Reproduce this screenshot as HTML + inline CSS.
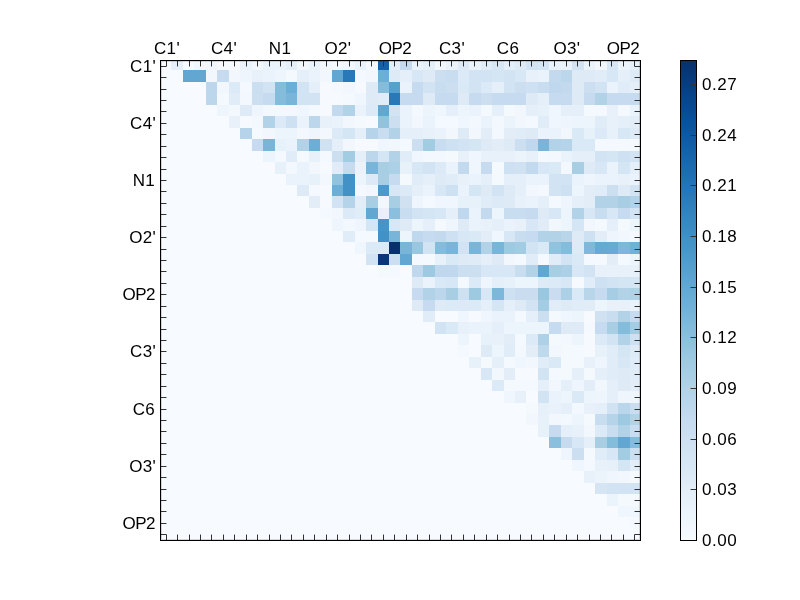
<!DOCTYPE html>
<html><head><meta charset="utf-8"><title>heatmap</title>
<style>
html,body{margin:0;padding:0;background:#fff;}
body{width:800px;height:600px;position:relative;overflow:hidden;font-family:"Liberation Sans",sans-serif;font-size:17px;color:#000;}
#ax{position:absolute;left:160px;top:60px;width:481px;height:481px;overflow:hidden;}
#ax svg{position:absolute;left:0;top:0;}
.xl{position:absolute;width:80px;text-align:center;top:39px;height:20px;line-height:20px;letter-spacing:0.3px;}
.yl{position:absolute;left:55.5px;width:100px;text-align:right;height:20px;line-height:20px;letter-spacing:0.3px;}
.cl{position:absolute;left:702px;height:20px;line-height:20px;letter-spacing:0.5px;}
.xl,.yl,.cl{will-change:transform;}
#cb{position:absolute;left:680px;top:60px;width:17px;height:481px;}
</style></head><body>
<div id="ax">
<svg width="481" height="482" viewBox="0 0 481 482" style="top:-1px" shape-rendering="crispEdges">
<rect x="0" y="0" width="481" height="482" fill="#f7fbff"/>
<rect x="11" y="0" width="12" height="11" fill="#e4eff9"/>
<rect x="34" y="0" width="12" height="11" fill="#f1f7fd"/>
<rect x="46" y="0" width="11" height="11" fill="#f1f7fd"/>
<rect x="80" y="0" width="12" height="11" fill="#eaf3fb"/>
<rect x="92" y="0" width="11" height="11" fill="#f1f7fd"/>
<rect x="103" y="0" width="12" height="11" fill="#eaf3fb"/>
<rect x="115" y="0" width="11" height="11" fill="#eaf3fb"/>
<rect x="126" y="0" width="11" height="11" fill="#e4eff9"/>
<rect x="137" y="0" width="12" height="11" fill="#f1f7fd"/>
<rect x="149" y="0" width="11" height="11" fill="#eaf3fb"/>
<rect x="160" y="0" width="12" height="11" fill="#f1f7fd"/>
<rect x="172" y="0" width="11" height="11" fill="#f3f9fe"/>
<rect x="183" y="0" width="12" height="11" fill="#f1f7fd"/>
<rect x="195" y="0" width="11" height="11" fill="#eaf3fb"/>
<rect x="206" y="0" width="12" height="11" fill="#f3f9fe"/>
<rect x="218" y="0" width="11" height="11" fill="#1461a8"/>
<rect x="229" y="0" width="11" height="11" fill="#e4eff9"/>
<rect x="240" y="0" width="12" height="11" fill="#c6dbef"/>
<rect x="252" y="0" width="11" height="11" fill="#eaf3fb"/>
<rect x="263" y="0" width="12" height="11" fill="#e4eff9"/>
<rect x="275" y="0" width="11" height="11" fill="#f1f7fd"/>
<rect x="286" y="0" width="12" height="11" fill="#eaf3fb"/>
<rect x="298" y="0" width="11" height="11" fill="#deebf7"/>
<rect x="309" y="0" width="12" height="11" fill="#eaf3fb"/>
<rect x="321" y="0" width="11" height="11" fill="#e0edf8"/>
<rect x="332" y="0" width="12" height="11" fill="#d8e7f5"/>
<rect x="344" y="0" width="11" height="11" fill="#e4eff9"/>
<rect x="355" y="0" width="11" height="11" fill="#deebf7"/>
<rect x="366" y="0" width="12" height="11" fill="#d2e3f3"/>
<rect x="378" y="0" width="11" height="11" fill="#d4e5f4"/>
<rect x="389" y="0" width="12" height="11" fill="#eaf3fb"/>
<rect x="401" y="0" width="11" height="11" fill="#eaf3fb"/>
<rect x="412" y="0" width="12" height="11" fill="#d2e3f3"/>
<rect x="424" y="0" width="11" height="11" fill="#eaf3fb"/>
<rect x="435" y="0" width="12" height="11" fill="#f1f7fd"/>
<rect x="447" y="0" width="11" height="11" fill="#d8e7f5"/>
<rect x="458" y="0" width="12" height="11" fill="#edf5fc"/>
<rect x="470" y="0" width="11" height="11" fill="#e4eff9"/>
<rect x="23" y="11" width="11" height="12" fill="#61a7d2"/>
<rect x="34" y="11" width="12" height="12" fill="#61a7d2"/>
<rect x="46" y="11" width="11" height="12" fill="#f1f7fd"/>
<rect x="57" y="11" width="12" height="12" fill="#c6dbef"/>
<rect x="69" y="11" width="11" height="12" fill="#f1f7fd"/>
<rect x="80" y="11" width="12" height="12" fill="#eef5fc"/>
<rect x="92" y="11" width="11" height="12" fill="#e8f1fa"/>
<rect x="103" y="11" width="12" height="12" fill="#eaf3fb"/>
<rect x="115" y="11" width="11" height="12" fill="#eef5fc"/>
<rect x="126" y="11" width="11" height="12" fill="#f4f9fe"/>
<rect x="137" y="11" width="12" height="12" fill="#e4eff9"/>
<rect x="149" y="11" width="11" height="12" fill="#eaf3fb"/>
<rect x="160" y="11" width="12" height="12" fill="#f1f7fd"/>
<rect x="172" y="11" width="11" height="12" fill="#61a7d2"/>
<rect x="183" y="11" width="12" height="12" fill="#2979b9"/>
<rect x="195" y="11" width="11" height="12" fill="#f3f9fe"/>
<rect x="206" y="11" width="12" height="12" fill="#f1f7fd"/>
<rect x="218" y="11" width="11" height="12" fill="#6baed6"/>
<rect x="229" y="11" width="11" height="12" fill="#deebf7"/>
<rect x="240" y="11" width="12" height="12" fill="#e4eff9"/>
<rect x="252" y="11" width="11" height="12" fill="#d8e7f5"/>
<rect x="263" y="11" width="12" height="12" fill="#deebf7"/>
<rect x="275" y="11" width="11" height="12" fill="#ccdff1"/>
<rect x="286" y="11" width="12" height="12" fill="#c8ddf0"/>
<rect x="298" y="11" width="11" height="12" fill="#dce9f6"/>
<rect x="309" y="11" width="12" height="12" fill="#d2e3f3"/>
<rect x="321" y="11" width="11" height="12" fill="#d2e3f3"/>
<rect x="332" y="11" width="12" height="12" fill="#d4e5f4"/>
<rect x="344" y="11" width="11" height="12" fill="#d2e3f3"/>
<rect x="355" y="11" width="11" height="12" fill="#d8e7f5"/>
<rect x="366" y="11" width="12" height="12" fill="#e8f1fa"/>
<rect x="378" y="11" width="11" height="12" fill="#eaf3fb"/>
<rect x="389" y="11" width="12" height="12" fill="#c2d9ee"/>
<rect x="401" y="11" width="11" height="12" fill="#bcd7ec"/>
<rect x="412" y="11" width="12" height="12" fill="#deebf7"/>
<rect x="424" y="11" width="11" height="12" fill="#deebf7"/>
<rect x="435" y="11" width="12" height="12" fill="#e0edf8"/>
<rect x="447" y="11" width="11" height="12" fill="#d8e7f5"/>
<rect x="458" y="11" width="12" height="12" fill="#e4eff9"/>
<rect x="470" y="11" width="11" height="12" fill="#deebf7"/>
<rect x="46" y="23" width="11" height="11" fill="#bcd7ec"/>
<rect x="57" y="23" width="12" height="11" fill="#f1f7fd"/>
<rect x="69" y="23" width="11" height="11" fill="#dce9f6"/>
<rect x="80" y="23" width="12" height="11" fill="#f3f9fe"/>
<rect x="92" y="23" width="11" height="11" fill="#ccdff1"/>
<rect x="103" y="23" width="12" height="11" fill="#d2e3f3"/>
<rect x="115" y="23" width="11" height="11" fill="#84bcdc"/>
<rect x="126" y="23" width="11" height="11" fill="#6baed6"/>
<rect x="137" y="23" width="12" height="11" fill="#d2e3f3"/>
<rect x="149" y="23" width="11" height="11" fill="#e4eff9"/>
<rect x="160" y="23" width="12" height="11" fill="#f6faff"/>
<rect x="172" y="23" width="11" height="11" fill="#f4f9fe"/>
<rect x="183" y="23" width="12" height="11" fill="#f1f7fd"/>
<rect x="195" y="23" width="11" height="11" fill="#f6faff"/>
<rect x="206" y="23" width="12" height="11" fill="#deebf7"/>
<rect x="218" y="23" width="11" height="11" fill="#84bcdc"/>
<rect x="229" y="23" width="11" height="11" fill="#56a0ce"/>
<rect x="240" y="23" width="12" height="11" fill="#eaf3fb"/>
<rect x="252" y="23" width="11" height="11" fill="#c6dbef"/>
<rect x="263" y="23" width="12" height="11" fill="#d2e3f3"/>
<rect x="275" y="23" width="11" height="11" fill="#c8ddf0"/>
<rect x="286" y="23" width="12" height="11" fill="#ccdff1"/>
<rect x="298" y="23" width="11" height="11" fill="#dae9f6"/>
<rect x="309" y="23" width="12" height="11" fill="#d2e3f3"/>
<rect x="321" y="23" width="11" height="11" fill="#dce9f6"/>
<rect x="332" y="23" width="12" height="11" fill="#e4eff9"/>
<rect x="344" y="23" width="11" height="11" fill="#d2e3f3"/>
<rect x="355" y="23" width="11" height="11" fill="#ccdff1"/>
<rect x="366" y="23" width="12" height="11" fill="#cee1f2"/>
<rect x="378" y="23" width="11" height="11" fill="#c8ddf0"/>
<rect x="389" y="23" width="12" height="11" fill="#c0d8ed"/>
<rect x="401" y="23" width="11" height="11" fill="#c2d9ee"/>
<rect x="412" y="23" width="12" height="11" fill="#deebf7"/>
<rect x="424" y="23" width="11" height="11" fill="#ccdff1"/>
<rect x="435" y="23" width="12" height="11" fill="#d2e3f3"/>
<rect x="447" y="23" width="11" height="11" fill="#eaf3fb"/>
<rect x="458" y="23" width="12" height="11" fill="#e0edf8"/>
<rect x="470" y="23" width="11" height="11" fill="#e4eff9"/>
<rect x="46" y="34" width="11" height="12" fill="#bcd7ec"/>
<rect x="57" y="34" width="12" height="12" fill="#f4f9fe"/>
<rect x="69" y="34" width="11" height="12" fill="#e0edf8"/>
<rect x="80" y="34" width="12" height="12" fill="#f2f8fd"/>
<rect x="92" y="34" width="11" height="12" fill="#ccdff1"/>
<rect x="103" y="34" width="12" height="12" fill="#c6dbef"/>
<rect x="115" y="34" width="11" height="12" fill="#84bcdc"/>
<rect x="126" y="34" width="11" height="12" fill="#78b5d9"/>
<rect x="137" y="34" width="12" height="12" fill="#d2e3f3"/>
<rect x="149" y="34" width="11" height="12" fill="#d2e3f3"/>
<rect x="160" y="34" width="12" height="12" fill="#f6faff"/>
<rect x="172" y="34" width="11" height="12" fill="#f6faff"/>
<rect x="183" y="34" width="12" height="12" fill="#f4f9fe"/>
<rect x="195" y="34" width="11" height="12" fill="#f0f6fd"/>
<rect x="206" y="34" width="12" height="12" fill="#deebf7"/>
<rect x="218" y="34" width="11" height="12" fill="#e0edf8"/>
<rect x="229" y="34" width="11" height="12" fill="#2979b9"/>
<rect x="240" y="34" width="12" height="12" fill="#c6dbef"/>
<rect x="252" y="34" width="11" height="12" fill="#c6dbef"/>
<rect x="263" y="34" width="12" height="12" fill="#deebf7"/>
<rect x="275" y="34" width="11" height="12" fill="#c6dbef"/>
<rect x="286" y="34" width="12" height="12" fill="#c6dbef"/>
<rect x="298" y="34" width="11" height="12" fill="#deebf7"/>
<rect x="309" y="34" width="12" height="12" fill="#c6dbef"/>
<rect x="321" y="34" width="11" height="12" fill="#ccdff1"/>
<rect x="332" y="34" width="12" height="12" fill="#c6dbef"/>
<rect x="344" y="34" width="11" height="12" fill="#c6dbef"/>
<rect x="355" y="34" width="11" height="12" fill="#c6dbef"/>
<rect x="366" y="34" width="12" height="12" fill="#deebf7"/>
<rect x="378" y="34" width="11" height="12" fill="#e4eff9"/>
<rect x="389" y="34" width="12" height="12" fill="#c6dbef"/>
<rect x="401" y="34" width="11" height="12" fill="#c6dbef"/>
<rect x="412" y="34" width="12" height="12" fill="#deebf7"/>
<rect x="424" y="34" width="11" height="12" fill="#c6dbef"/>
<rect x="435" y="34" width="12" height="12" fill="#b2d2e8"/>
<rect x="447" y="34" width="11" height="12" fill="#c6dbef"/>
<rect x="458" y="34" width="12" height="12" fill="#c6dbef"/>
<rect x="470" y="34" width="11" height="12" fill="#c6dbef"/>
<rect x="57" y="46" width="12" height="11" fill="#eef5fc"/>
<rect x="69" y="46" width="11" height="11" fill="#f2f8fd"/>
<rect x="80" y="46" width="12" height="11" fill="#deebf7"/>
<rect x="92" y="46" width="11" height="11" fill="#eef5fc"/>
<rect x="103" y="46" width="12" height="11" fill="#f2f8fd"/>
<rect x="115" y="46" width="11" height="11" fill="#f2f8fd"/>
<rect x="126" y="46" width="11" height="11" fill="#f2f8fd"/>
<rect x="137" y="46" width="12" height="11" fill="#f0f6fd"/>
<rect x="149" y="46" width="11" height="11" fill="#f3f9fe"/>
<rect x="160" y="46" width="12" height="11" fill="#f6faff"/>
<rect x="172" y="46" width="11" height="11" fill="#c2d9ee"/>
<rect x="183" y="46" width="12" height="11" fill="#b2d2e8"/>
<rect x="195" y="46" width="11" height="11" fill="#eaf3fb"/>
<rect x="206" y="46" width="12" height="11" fill="#dce9f6"/>
<rect x="218" y="46" width="11" height="11" fill="#61a7d2"/>
<rect x="229" y="46" width="11" height="11" fill="#d2e3f3"/>
<rect x="240" y="46" width="12" height="11" fill="#eaf3fb"/>
<rect x="252" y="46" width="11" height="11" fill="#f3f9fe"/>
<rect x="263" y="46" width="12" height="11" fill="#edf5fc"/>
<rect x="275" y="46" width="11" height="11" fill="#f0f6fd"/>
<rect x="286" y="46" width="12" height="11" fill="#e4eff9"/>
<rect x="298" y="46" width="11" height="11" fill="#edf5fc"/>
<rect x="309" y="46" width="12" height="11" fill="#eaf3fb"/>
<rect x="321" y="46" width="11" height="11" fill="#f3f9fe"/>
<rect x="332" y="46" width="12" height="11" fill="#e4eff9"/>
<rect x="344" y="46" width="11" height="11" fill="#f4f9fe"/>
<rect x="355" y="46" width="11" height="11" fill="#f1f7fd"/>
<rect x="366" y="46" width="12" height="11" fill="#e4eff9"/>
<rect x="378" y="46" width="11" height="11" fill="#e7f1fa"/>
<rect x="389" y="46" width="12" height="11" fill="#f0f6fd"/>
<rect x="401" y="46" width="11" height="11" fill="#e4eff9"/>
<rect x="412" y="46" width="12" height="11" fill="#e4eff9"/>
<rect x="424" y="46" width="11" height="11" fill="#f4f9fe"/>
<rect x="435" y="46" width="12" height="11" fill="#f3f9fe"/>
<rect x="447" y="46" width="11" height="11" fill="#e8f1fa"/>
<rect x="458" y="46" width="12" height="11" fill="#f3f9fe"/>
<rect x="470" y="46" width="11" height="11" fill="#eaf3fb"/>
<rect x="69" y="57" width="11" height="12" fill="#e8f1fa"/>
<rect x="80" y="57" width="12" height="12" fill="#f6faff"/>
<rect x="92" y="57" width="11" height="12" fill="#f2f8fd"/>
<rect x="103" y="57" width="12" height="12" fill="#b2d2e8"/>
<rect x="115" y="57" width="11" height="12" fill="#dce9f6"/>
<rect x="126" y="57" width="11" height="12" fill="#cee1f2"/>
<rect x="137" y="57" width="12" height="12" fill="#eaf3fb"/>
<rect x="149" y="57" width="11" height="12" fill="#bcd7ec"/>
<rect x="160" y="57" width="12" height="12" fill="#e8f1fa"/>
<rect x="172" y="57" width="11" height="12" fill="#eaf3fb"/>
<rect x="183" y="57" width="12" height="12" fill="#f1f7fd"/>
<rect x="195" y="57" width="11" height="12" fill="#f4f9fe"/>
<rect x="206" y="57" width="12" height="12" fill="#f6faff"/>
<rect x="218" y="57" width="11" height="12" fill="#91c3de"/>
<rect x="229" y="57" width="11" height="12" fill="#ccdff1"/>
<rect x="240" y="57" width="12" height="12" fill="#eaf3fb"/>
<rect x="252" y="57" width="11" height="12" fill="#f1f7fd"/>
<rect x="263" y="57" width="12" height="12" fill="#eaf3fb"/>
<rect x="275" y="57" width="11" height="12" fill="#f3f9fe"/>
<rect x="286" y="57" width="12" height="12" fill="#f3f9fe"/>
<rect x="298" y="57" width="11" height="12" fill="#f0f6fd"/>
<rect x="309" y="57" width="12" height="12" fill="#f2f8fd"/>
<rect x="321" y="57" width="11" height="12" fill="#eaf3fb"/>
<rect x="332" y="57" width="12" height="12" fill="#f2f8fd"/>
<rect x="344" y="57" width="11" height="12" fill="#ecf4fb"/>
<rect x="355" y="57" width="11" height="12" fill="#f1f7fd"/>
<rect x="366" y="57" width="12" height="12" fill="#f3f9fe"/>
<rect x="378" y="57" width="11" height="12" fill="#e0edf8"/>
<rect x="389" y="57" width="12" height="12" fill="#f0f6fd"/>
<rect x="401" y="57" width="11" height="12" fill="#eef5fc"/>
<rect x="412" y="57" width="12" height="12" fill="#edf5fc"/>
<rect x="424" y="57" width="11" height="12" fill="#edf5fc"/>
<rect x="435" y="57" width="12" height="12" fill="#e0edf8"/>
<rect x="447" y="57" width="11" height="12" fill="#e8f1fa"/>
<rect x="458" y="57" width="12" height="12" fill="#e4eff9"/>
<rect x="470" y="57" width="11" height="12" fill="#e2edf8"/>
<rect x="80" y="69" width="12" height="11" fill="#b6d4e9"/>
<rect x="92" y="69" width="11" height="11" fill="#f3f9fe"/>
<rect x="103" y="69" width="12" height="11" fill="#f1f7fd"/>
<rect x="115" y="69" width="11" height="11" fill="#edf5fc"/>
<rect x="126" y="69" width="11" height="11" fill="#edf5fc"/>
<rect x="137" y="69" width="12" height="11" fill="#f2f8fd"/>
<rect x="149" y="69" width="11" height="11" fill="#eef5fc"/>
<rect x="160" y="69" width="12" height="11" fill="#f2f8fd"/>
<rect x="172" y="69" width="11" height="11" fill="#dce9f6"/>
<rect x="183" y="69" width="12" height="11" fill="#d4e5f4"/>
<rect x="195" y="69" width="11" height="11" fill="#e4eff9"/>
<rect x="206" y="69" width="12" height="11" fill="#b6d4e9"/>
<rect x="218" y="69" width="11" height="11" fill="#c8ddf0"/>
<rect x="229" y="69" width="11" height="11" fill="#b2d2e8"/>
<rect x="240" y="69" width="12" height="11" fill="#e4eff9"/>
<rect x="252" y="69" width="11" height="11" fill="#e4eff9"/>
<rect x="263" y="69" width="12" height="11" fill="#e8f1fa"/>
<rect x="275" y="69" width="11" height="11" fill="#eaf3fb"/>
<rect x="286" y="69" width="12" height="11" fill="#f1f7fd"/>
<rect x="298" y="69" width="11" height="11" fill="#deebf7"/>
<rect x="309" y="69" width="12" height="11" fill="#f1f7fd"/>
<rect x="321" y="69" width="11" height="11" fill="#e2edf8"/>
<rect x="332" y="69" width="12" height="11" fill="#f2f8fd"/>
<rect x="344" y="69" width="11" height="11" fill="#e2edf8"/>
<rect x="355" y="69" width="11" height="11" fill="#e0edf8"/>
<rect x="366" y="69" width="12" height="11" fill="#deebf7"/>
<rect x="378" y="69" width="11" height="11" fill="#eaf3fb"/>
<rect x="389" y="69" width="12" height="11" fill="#eaf3fb"/>
<rect x="401" y="69" width="11" height="11" fill="#f1f7fd"/>
<rect x="412" y="69" width="12" height="11" fill="#dae9f6"/>
<rect x="424" y="69" width="11" height="11" fill="#e7f1fa"/>
<rect x="435" y="69" width="12" height="11" fill="#dce9f6"/>
<rect x="447" y="69" width="11" height="11" fill="#e7f1fa"/>
<rect x="458" y="69" width="12" height="11" fill="#d8e7f5"/>
<rect x="470" y="69" width="11" height="11" fill="#deebf7"/>
<rect x="92" y="80" width="11" height="12" fill="#c6dbef"/>
<rect x="103" y="80" width="12" height="12" fill="#78b5d9"/>
<rect x="115" y="80" width="11" height="12" fill="#e7f1fa"/>
<rect x="126" y="80" width="11" height="12" fill="#eaf3fb"/>
<rect x="137" y="80" width="12" height="12" fill="#b2d2e8"/>
<rect x="149" y="80" width="11" height="12" fill="#6baed6"/>
<rect x="160" y="80" width="12" height="12" fill="#d0e1f2"/>
<rect x="172" y="80" width="11" height="12" fill="#e4eff9"/>
<rect x="183" y="80" width="12" height="12" fill="#f1f7fd"/>
<rect x="195" y="80" width="11" height="12" fill="#f6faff"/>
<rect x="206" y="80" width="12" height="12" fill="#f6faff"/>
<rect x="218" y="80" width="11" height="12" fill="#f0f6fd"/>
<rect x="229" y="80" width="11" height="12" fill="#f1f7fd"/>
<rect x="240" y="80" width="12" height="12" fill="#f3f9fe"/>
<rect x="252" y="80" width="11" height="12" fill="#ccdff1"/>
<rect x="263" y="80" width="12" height="12" fill="#a2cce2"/>
<rect x="275" y="80" width="11" height="12" fill="#c8ddf0"/>
<rect x="286" y="80" width="12" height="12" fill="#cee1f2"/>
<rect x="298" y="80" width="11" height="12" fill="#d2e3f3"/>
<rect x="309" y="80" width="12" height="12" fill="#d4e5f4"/>
<rect x="321" y="80" width="11" height="12" fill="#deebf7"/>
<rect x="332" y="80" width="12" height="12" fill="#e2edf8"/>
<rect x="344" y="80" width="11" height="12" fill="#deebf7"/>
<rect x="355" y="80" width="11" height="12" fill="#ccdff1"/>
<rect x="366" y="80" width="12" height="12" fill="#c0d8ed"/>
<rect x="378" y="80" width="11" height="12" fill="#78b5d9"/>
<rect x="389" y="80" width="12" height="12" fill="#b2d2e8"/>
<rect x="401" y="80" width="11" height="12" fill="#b6d4e9"/>
<rect x="412" y="80" width="12" height="12" fill="#dae9f6"/>
<rect x="424" y="80" width="11" height="12" fill="#dae9f6"/>
<rect x="435" y="80" width="12" height="12" fill="#f3f9fe"/>
<rect x="447" y="80" width="11" height="12" fill="#f3f9fe"/>
<rect x="458" y="80" width="12" height="12" fill="#f4f9fe"/>
<rect x="470" y="80" width="11" height="12" fill="#f4f9fe"/>
<rect x="103" y="92" width="12" height="11" fill="#edf5fc"/>
<rect x="115" y="92" width="11" height="11" fill="#f3f9fe"/>
<rect x="126" y="92" width="11" height="11" fill="#e0edf8"/>
<rect x="137" y="92" width="12" height="11" fill="#f4f9fe"/>
<rect x="149" y="92" width="11" height="11" fill="#e8f1fa"/>
<rect x="160" y="92" width="12" height="11" fill="#f3f9fe"/>
<rect x="172" y="92" width="11" height="11" fill="#ccdff1"/>
<rect x="183" y="92" width="12" height="11" fill="#a2cce2"/>
<rect x="195" y="92" width="11" height="11" fill="#e4eff9"/>
<rect x="206" y="92" width="12" height="11" fill="#bcd7ec"/>
<rect x="218" y="92" width="11" height="11" fill="#d4e5f4"/>
<rect x="229" y="92" width="11" height="11" fill="#b2d2e8"/>
<rect x="240" y="92" width="12" height="11" fill="#e0edf8"/>
<rect x="252" y="92" width="11" height="11" fill="#f0f6fd"/>
<rect x="263" y="92" width="12" height="11" fill="#f2f8fd"/>
<rect x="275" y="92" width="11" height="11" fill="#f2f8fd"/>
<rect x="286" y="92" width="12" height="11" fill="#f4f9fe"/>
<rect x="298" y="92" width="11" height="11" fill="#e8f1fa"/>
<rect x="309" y="92" width="12" height="11" fill="#f0f6fd"/>
<rect x="321" y="92" width="11" height="11" fill="#e8f1fa"/>
<rect x="332" y="92" width="12" height="11" fill="#e8f1fa"/>
<rect x="344" y="92" width="11" height="11" fill="#e8f1fa"/>
<rect x="355" y="92" width="11" height="11" fill="#ecf4fb"/>
<rect x="366" y="92" width="12" height="11" fill="#e8f1fa"/>
<rect x="378" y="92" width="11" height="11" fill="#f3f9fe"/>
<rect x="389" y="92" width="12" height="11" fill="#f2f8fd"/>
<rect x="401" y="92" width="11" height="11" fill="#eaf3fb"/>
<rect x="412" y="92" width="12" height="11" fill="#e4eff9"/>
<rect x="424" y="92" width="11" height="11" fill="#e4eff9"/>
<rect x="435" y="92" width="12" height="11" fill="#d2e3f3"/>
<rect x="447" y="92" width="11" height="11" fill="#d4e5f4"/>
<rect x="458" y="92" width="12" height="11" fill="#cee1f2"/>
<rect x="470" y="92" width="11" height="11" fill="#d2e3f3"/>
<rect x="115" y="103" width="11" height="12" fill="#e7f1fa"/>
<rect x="126" y="103" width="11" height="12" fill="#f2f8fd"/>
<rect x="137" y="103" width="12" height="12" fill="#eaf3fb"/>
<rect x="149" y="103" width="11" height="12" fill="#f1f7fd"/>
<rect x="160" y="103" width="12" height="12" fill="#f6faff"/>
<rect x="172" y="103" width="11" height="12" fill="#e0edf8"/>
<rect x="183" y="103" width="12" height="12" fill="#c6dbef"/>
<rect x="195" y="103" width="11" height="12" fill="#eaf3fb"/>
<rect x="206" y="103" width="12" height="12" fill="#78b5d9"/>
<rect x="218" y="103" width="11" height="12" fill="#a8cee4"/>
<rect x="229" y="103" width="11" height="12" fill="#acd0e6"/>
<rect x="240" y="103" width="12" height="12" fill="#e7f1fa"/>
<rect x="252" y="103" width="11" height="12" fill="#d8e7f5"/>
<rect x="263" y="103" width="12" height="12" fill="#d2e3f3"/>
<rect x="275" y="103" width="11" height="12" fill="#dce9f6"/>
<rect x="286" y="103" width="12" height="12" fill="#eaf3fb"/>
<rect x="298" y="103" width="11" height="12" fill="#c2d9ee"/>
<rect x="309" y="103" width="12" height="12" fill="#f0f6fd"/>
<rect x="321" y="103" width="11" height="12" fill="#c6dbef"/>
<rect x="332" y="103" width="12" height="12" fill="#f4f9fe"/>
<rect x="344" y="103" width="11" height="12" fill="#cee1f2"/>
<rect x="355" y="103" width="11" height="12" fill="#d0e1f2"/>
<rect x="366" y="103" width="12" height="12" fill="#c2d9ee"/>
<rect x="378" y="103" width="11" height="12" fill="#d8e7f5"/>
<rect x="389" y="103" width="12" height="12" fill="#dae9f6"/>
<rect x="401" y="103" width="11" height="12" fill="#f2f8fd"/>
<rect x="412" y="103" width="12" height="12" fill="#a8cee4"/>
<rect x="424" y="103" width="11" height="12" fill="#deebf7"/>
<rect x="435" y="103" width="12" height="12" fill="#d8e7f5"/>
<rect x="447" y="103" width="11" height="12" fill="#eaf3fb"/>
<rect x="458" y="103" width="12" height="12" fill="#d4e5f4"/>
<rect x="470" y="103" width="11" height="12" fill="#e4eff9"/>
<rect x="126" y="115" width="11" height="11" fill="#eaf3fb"/>
<rect x="137" y="115" width="12" height="11" fill="#eaf3fb"/>
<rect x="149" y="115" width="11" height="11" fill="#e7f1fa"/>
<rect x="160" y="115" width="12" height="11" fill="#f2f8fd"/>
<rect x="172" y="115" width="11" height="11" fill="#91c3de"/>
<rect x="183" y="115" width="12" height="11" fill="#4292c6"/>
<rect x="195" y="115" width="11" height="11" fill="#edf5fc"/>
<rect x="206" y="115" width="12" height="11" fill="#dce9f6"/>
<rect x="218" y="115" width="11" height="11" fill="#a8cee4"/>
<rect x="229" y="115" width="11" height="11" fill="#c6dbef"/>
<rect x="240" y="115" width="12" height="11" fill="#f4f9fe"/>
<rect x="252" y="115" width="11" height="11" fill="#e0edf8"/>
<rect x="263" y="115" width="12" height="11" fill="#e4eff9"/>
<rect x="275" y="115" width="11" height="11" fill="#deebf7"/>
<rect x="286" y="115" width="12" height="11" fill="#e0edf8"/>
<rect x="298" y="115" width="11" height="11" fill="#e8f1fa"/>
<rect x="309" y="115" width="12" height="11" fill="#eaf3fb"/>
<rect x="321" y="115" width="11" height="11" fill="#e4eff9"/>
<rect x="332" y="115" width="12" height="11" fill="#f4f9fe"/>
<rect x="344" y="115" width="11" height="11" fill="#e4eff9"/>
<rect x="355" y="115" width="11" height="11" fill="#e4eff9"/>
<rect x="366" y="115" width="12" height="11" fill="#eaf3fb"/>
<rect x="378" y="115" width="11" height="11" fill="#eaf3fb"/>
<rect x="389" y="115" width="12" height="11" fill="#d2e3f3"/>
<rect x="401" y="115" width="11" height="11" fill="#d2e3f3"/>
<rect x="412" y="115" width="12" height="11" fill="#eaf3fb"/>
<rect x="424" y="115" width="11" height="11" fill="#eef5fc"/>
<rect x="435" y="115" width="12" height="11" fill="#eaf3fb"/>
<rect x="447" y="115" width="11" height="11" fill="#eaf3fb"/>
<rect x="458" y="115" width="12" height="11" fill="#e8f1fa"/>
<rect x="470" y="115" width="11" height="11" fill="#eaf3fb"/>
<rect x="137" y="126" width="12" height="11" fill="#deebf7"/>
<rect x="149" y="126" width="11" height="11" fill="#f3f9fe"/>
<rect x="160" y="126" width="12" height="11" fill="#f6faff"/>
<rect x="172" y="126" width="11" height="11" fill="#6baed6"/>
<rect x="183" y="126" width="12" height="11" fill="#4292c6"/>
<rect x="195" y="126" width="11" height="11" fill="#f3f9fe"/>
<rect x="206" y="126" width="12" height="11" fill="#f1f7fd"/>
<rect x="218" y="126" width="11" height="11" fill="#4c99ca"/>
<rect x="229" y="126" width="11" height="11" fill="#d8e7f5"/>
<rect x="240" y="126" width="12" height="11" fill="#dce9f6"/>
<rect x="252" y="126" width="11" height="11" fill="#e4eff9"/>
<rect x="263" y="126" width="12" height="11" fill="#eaf3fb"/>
<rect x="275" y="126" width="11" height="11" fill="#d8e7f5"/>
<rect x="286" y="126" width="12" height="11" fill="#cee1f2"/>
<rect x="298" y="126" width="11" height="11" fill="#eaf3fb"/>
<rect x="309" y="126" width="12" height="11" fill="#d4e5f4"/>
<rect x="321" y="126" width="11" height="11" fill="#deebf7"/>
<rect x="332" y="126" width="12" height="11" fill="#d2e3f3"/>
<rect x="344" y="126" width="11" height="11" fill="#deebf7"/>
<rect x="355" y="126" width="11" height="11" fill="#e4eff9"/>
<rect x="366" y="126" width="12" height="11" fill="#f1f7fd"/>
<rect x="378" y="126" width="11" height="11" fill="#f3f9fe"/>
<rect x="389" y="126" width="12" height="11" fill="#d2e3f3"/>
<rect x="401" y="126" width="11" height="11" fill="#cee1f2"/>
<rect x="412" y="126" width="12" height="11" fill="#edf5fc"/>
<rect x="424" y="126" width="11" height="11" fill="#e2edf8"/>
<rect x="435" y="126" width="12" height="11" fill="#e0edf8"/>
<rect x="447" y="126" width="11" height="11" fill="#ccdff1"/>
<rect x="458" y="126" width="12" height="11" fill="#deebf7"/>
<rect x="470" y="126" width="11" height="11" fill="#d2e3f3"/>
<rect x="149" y="137" width="11" height="12" fill="#e2edf8"/>
<rect x="160" y="137" width="12" height="12" fill="#f6faff"/>
<rect x="172" y="137" width="11" height="12" fill="#d2e3f3"/>
<rect x="183" y="137" width="12" height="12" fill="#b6d4e9"/>
<rect x="195" y="137" width="11" height="12" fill="#e2edf8"/>
<rect x="206" y="137" width="12" height="12" fill="#a8cee4"/>
<rect x="218" y="137" width="11" height="12" fill="#f1f7fd"/>
<rect x="229" y="137" width="11" height="12" fill="#a8cee4"/>
<rect x="240" y="137" width="12" height="12" fill="#d0e1f2"/>
<rect x="252" y="137" width="11" height="12" fill="#eef5fc"/>
<rect x="263" y="137" width="12" height="12" fill="#f3f9fe"/>
<rect x="275" y="137" width="11" height="12" fill="#f0f6fd"/>
<rect x="286" y="137" width="12" height="12" fill="#f0f6fd"/>
<rect x="298" y="137" width="11" height="12" fill="#e7f1fa"/>
<rect x="309" y="137" width="12" height="12" fill="#e7f1fa"/>
<rect x="321" y="137" width="11" height="12" fill="#e0edf8"/>
<rect x="332" y="137" width="12" height="12" fill="#dce9f6"/>
<rect x="344" y="137" width="11" height="12" fill="#deebf7"/>
<rect x="355" y="137" width="11" height="12" fill="#e8f1fa"/>
<rect x="366" y="137" width="12" height="12" fill="#eaf3fb"/>
<rect x="378" y="137" width="11" height="12" fill="#e4eff9"/>
<rect x="389" y="137" width="12" height="12" fill="#f3f9fe"/>
<rect x="401" y="137" width="11" height="12" fill="#eef5fc"/>
<rect x="412" y="137" width="12" height="12" fill="#e4eff9"/>
<rect x="424" y="137" width="11" height="12" fill="#e2edf8"/>
<rect x="435" y="137" width="12" height="12" fill="#b2d2e8"/>
<rect x="447" y="137" width="11" height="12" fill="#b2d2e8"/>
<rect x="458" y="137" width="12" height="12" fill="#a8cee4"/>
<rect x="470" y="137" width="11" height="12" fill="#b2d2e8"/>
<rect x="160" y="149" width="12" height="11" fill="#f3f9fe"/>
<rect x="172" y="149" width="11" height="11" fill="#f1f7fd"/>
<rect x="183" y="149" width="12" height="11" fill="#dce9f6"/>
<rect x="195" y="149" width="11" height="11" fill="#e0edf8"/>
<rect x="206" y="149" width="12" height="11" fill="#61a7d2"/>
<rect x="218" y="149" width="11" height="11" fill="#e8f1fa"/>
<rect x="229" y="149" width="11" height="11" fill="#8abfdd"/>
<rect x="240" y="149" width="12" height="11" fill="#c8ddf0"/>
<rect x="252" y="149" width="11" height="11" fill="#d2e3f3"/>
<rect x="263" y="149" width="12" height="11" fill="#d4e5f4"/>
<rect x="275" y="149" width="11" height="11" fill="#d8e7f5"/>
<rect x="286" y="149" width="12" height="11" fill="#e4eff9"/>
<rect x="298" y="149" width="11" height="11" fill="#c0d8ed"/>
<rect x="309" y="149" width="12" height="11" fill="#eaf3fb"/>
<rect x="321" y="149" width="11" height="11" fill="#c2d9ee"/>
<rect x="332" y="149" width="12" height="11" fill="#edf5fc"/>
<rect x="344" y="149" width="11" height="11" fill="#c8ddf0"/>
<rect x="355" y="149" width="11" height="11" fill="#c8ddf0"/>
<rect x="366" y="149" width="12" height="11" fill="#c6dbef"/>
<rect x="378" y="149" width="11" height="11" fill="#deebf7"/>
<rect x="389" y="149" width="12" height="11" fill="#d8e7f5"/>
<rect x="401" y="149" width="11" height="11" fill="#edf5fc"/>
<rect x="412" y="149" width="12" height="11" fill="#b2d2e8"/>
<rect x="424" y="149" width="11" height="11" fill="#d8e7f5"/>
<rect x="435" y="149" width="12" height="11" fill="#c8ddf0"/>
<rect x="447" y="149" width="11" height="11" fill="#d8e7f5"/>
<rect x="458" y="149" width="12" height="11" fill="#c6dbef"/>
<rect x="470" y="149" width="11" height="11" fill="#d2e3f3"/>
<rect x="172" y="160" width="11" height="12" fill="#eef5fc"/>
<rect x="183" y="160" width="12" height="12" fill="#f2f8fd"/>
<rect x="195" y="160" width="11" height="12" fill="#eef5fc"/>
<rect x="206" y="160" width="12" height="12" fill="#d4e5f4"/>
<rect x="218" y="160" width="11" height="12" fill="#4695c8"/>
<rect x="229" y="160" width="11" height="12" fill="#d8e7f5"/>
<rect x="240" y="160" width="12" height="12" fill="#deebf7"/>
<rect x="252" y="160" width="11" height="12" fill="#edf5fc"/>
<rect x="263" y="160" width="12" height="12" fill="#e4eff9"/>
<rect x="275" y="160" width="11" height="12" fill="#f4f9fe"/>
<rect x="286" y="160" width="12" height="12" fill="#eef5fc"/>
<rect x="298" y="160" width="11" height="12" fill="#deebf7"/>
<rect x="309" y="160" width="12" height="12" fill="#eaf3fb"/>
<rect x="321" y="160" width="11" height="12" fill="#e8f1fa"/>
<rect x="332" y="160" width="12" height="12" fill="#e4eff9"/>
<rect x="344" y="160" width="11" height="12" fill="#eaf3fb"/>
<rect x="355" y="160" width="11" height="12" fill="#e8f1fa"/>
<rect x="366" y="160" width="12" height="12" fill="#d8e7f5"/>
<rect x="378" y="160" width="11" height="12" fill="#e0edf8"/>
<rect x="389" y="160" width="12" height="12" fill="#f1f7fd"/>
<rect x="401" y="160" width="11" height="12" fill="#edf5fc"/>
<rect x="412" y="160" width="12" height="12" fill="#d4e5f4"/>
<rect x="424" y="160" width="11" height="12" fill="#f1f7fd"/>
<rect x="435" y="160" width="12" height="12" fill="#f3f9fe"/>
<rect x="447" y="160" width="11" height="12" fill="#e4eff9"/>
<rect x="458" y="160" width="12" height="12" fill="#f4f9fe"/>
<rect x="470" y="160" width="11" height="12" fill="#edf5fc"/>
<rect x="183" y="172" width="12" height="11" fill="#e0edf8"/>
<rect x="195" y="172" width="11" height="11" fill="#f3f9fe"/>
<rect x="206" y="172" width="12" height="11" fill="#f4f9fe"/>
<rect x="218" y="172" width="11" height="11" fill="#4292c6"/>
<rect x="229" y="172" width="11" height="11" fill="#78b5d9"/>
<rect x="240" y="172" width="12" height="11" fill="#edf5fc"/>
<rect x="252" y="172" width="11" height="11" fill="#c0d8ed"/>
<rect x="263" y="172" width="12" height="11" fill="#c6dbef"/>
<rect x="275" y="172" width="11" height="11" fill="#c2d9ee"/>
<rect x="286" y="172" width="12" height="11" fill="#cee1f2"/>
<rect x="298" y="172" width="11" height="11" fill="#d8e7f5"/>
<rect x="309" y="172" width="12" height="11" fill="#dae9f6"/>
<rect x="321" y="172" width="11" height="11" fill="#e2edf8"/>
<rect x="332" y="172" width="12" height="11" fill="#f0f6fd"/>
<rect x="344" y="172" width="11" height="11" fill="#d8e7f5"/>
<rect x="355" y="172" width="11" height="11" fill="#c8ddf0"/>
<rect x="366" y="172" width="12" height="11" fill="#c6dbef"/>
<rect x="378" y="172" width="11" height="11" fill="#b2d2e8"/>
<rect x="389" y="172" width="12" height="11" fill="#b2d2e8"/>
<rect x="401" y="172" width="11" height="11" fill="#b8d5ea"/>
<rect x="412" y="172" width="12" height="11" fill="#deebf7"/>
<rect x="424" y="172" width="11" height="11" fill="#cee1f2"/>
<rect x="435" y="172" width="12" height="11" fill="#e2edf8"/>
<rect x="447" y="172" width="11" height="11" fill="#eef5fc"/>
<rect x="458" y="172" width="12" height="11" fill="#f1f7fd"/>
<rect x="470" y="172" width="11" height="11" fill="#f3f9fe"/>
<rect x="195" y="183" width="11" height="12" fill="#f0f6fd"/>
<rect x="206" y="183" width="12" height="12" fill="#dce9f6"/>
<rect x="218" y="183" width="11" height="12" fill="#dce9f6"/>
<rect x="229" y="183" width="11" height="12" fill="#08306b"/>
<rect x="240" y="183" width="12" height="12" fill="#78b5d9"/>
<rect x="252" y="183" width="11" height="12" fill="#99c7e0"/>
<rect x="263" y="183" width="12" height="12" fill="#d2e3f3"/>
<rect x="275" y="183" width="11" height="12" fill="#84bcdc"/>
<rect x="286" y="183" width="12" height="12" fill="#78b5d9"/>
<rect x="298" y="183" width="11" height="12" fill="#d2e3f3"/>
<rect x="309" y="183" width="12" height="12" fill="#78b5d9"/>
<rect x="321" y="183" width="11" height="12" fill="#b2d2e8"/>
<rect x="332" y="183" width="12" height="12" fill="#78b5d9"/>
<rect x="344" y="183" width="11" height="12" fill="#9ecae1"/>
<rect x="355" y="183" width="11" height="12" fill="#a2cce2"/>
<rect x="366" y="183" width="12" height="12" fill="#d2e3f3"/>
<rect x="378" y="183" width="11" height="12" fill="#dae9f6"/>
<rect x="389" y="183" width="12" height="12" fill="#91c3de"/>
<rect x="401" y="183" width="11" height="12" fill="#84bcdc"/>
<rect x="412" y="183" width="12" height="12" fill="#deebf7"/>
<rect x="424" y="183" width="11" height="12" fill="#7fb9da"/>
<rect x="435" y="183" width="12" height="12" fill="#65aad4"/>
<rect x="447" y="183" width="11" height="12" fill="#67abd4"/>
<rect x="458" y="183" width="12" height="12" fill="#7db8da"/>
<rect x="470" y="183" width="11" height="12" fill="#70b1d7"/>
<rect x="206" y="195" width="12" height="11" fill="#d2e3f3"/>
<rect x="218" y="195" width="11" height="11" fill="#083877"/>
<rect x="229" y="195" width="11" height="11" fill="#ccdff1"/>
<rect x="240" y="195" width="12" height="11" fill="#61a7d2"/>
<rect x="252" y="195" width="11" height="11" fill="#f3f9fe"/>
<rect x="263" y="195" width="12" height="11" fill="#f4f9fe"/>
<rect x="275" y="195" width="11" height="11" fill="#e7f1fa"/>
<rect x="286" y="195" width="12" height="11" fill="#dae9f6"/>
<rect x="298" y="195" width="11" height="11" fill="#deebf7"/>
<rect x="309" y="195" width="12" height="11" fill="#dfecf7"/>
<rect x="321" y="195" width="11" height="11" fill="#e4eff9"/>
<rect x="332" y="195" width="12" height="11" fill="#deebf7"/>
<rect x="344" y="195" width="11" height="11" fill="#f1f7fd"/>
<rect x="355" y="195" width="11" height="11" fill="#f3f9fe"/>
<rect x="366" y="195" width="12" height="11" fill="#e0edf8"/>
<rect x="378" y="195" width="11" height="11" fill="#f3f9fe"/>
<rect x="389" y="195" width="12" height="11" fill="#e0edf8"/>
<rect x="401" y="195" width="11" height="11" fill="#d2e3f3"/>
<rect x="412" y="195" width="12" height="11" fill="#dae9f6"/>
<rect x="424" y="195" width="11" height="11" fill="#f3f9fe"/>
<rect x="435" y="195" width="12" height="11" fill="#f3f9fe"/>
<rect x="447" y="195" width="11" height="11" fill="#e2edf8"/>
<rect x="458" y="195" width="12" height="11" fill="#f3f9fe"/>
<rect x="470" y="195" width="11" height="11" fill="#edf5fc"/>
<rect x="218" y="206" width="11" height="12" fill="#f4f9fe"/>
<rect x="229" y="206" width="11" height="12" fill="#f3f9fe"/>
<rect x="252" y="206" width="11" height="12" fill="#c0d8ed"/>
<rect x="263" y="206" width="12" height="12" fill="#9ecae1"/>
<rect x="275" y="206" width="11" height="12" fill="#c0d8ed"/>
<rect x="286" y="206" width="12" height="12" fill="#c0d8ed"/>
<rect x="298" y="206" width="11" height="12" fill="#ccdff1"/>
<rect x="309" y="206" width="12" height="12" fill="#ccdff1"/>
<rect x="321" y="206" width="11" height="12" fill="#d8e7f5"/>
<rect x="332" y="206" width="12" height="12" fill="#d8e7f5"/>
<rect x="344" y="206" width="11" height="12" fill="#d8e7f5"/>
<rect x="355" y="206" width="11" height="12" fill="#c8ddf0"/>
<rect x="366" y="206" width="12" height="12" fill="#b2d2e8"/>
<rect x="378" y="206" width="11" height="12" fill="#61a7d2"/>
<rect x="389" y="206" width="12" height="12" fill="#a8cee4"/>
<rect x="401" y="206" width="11" height="12" fill="#acd0e6"/>
<rect x="412" y="206" width="12" height="12" fill="#d8e7f5"/>
<rect x="424" y="206" width="11" height="12" fill="#d2e3f3"/>
<rect x="435" y="206" width="12" height="12" fill="#e8f1fa"/>
<rect x="447" y="206" width="11" height="12" fill="#e8f1fa"/>
<rect x="458" y="206" width="12" height="12" fill="#e8f1fa"/>
<rect x="470" y="206" width="11" height="12" fill="#e8f1fa"/>
<rect x="252" y="218" width="11" height="11" fill="#deebf7"/>
<rect x="263" y="218" width="12" height="11" fill="#eaf3fb"/>
<rect x="275" y="218" width="11" height="11" fill="#dae9f6"/>
<rect x="286" y="218" width="12" height="11" fill="#d8e7f5"/>
<rect x="298" y="218" width="11" height="11" fill="#f3f9fe"/>
<rect x="309" y="218" width="12" height="11" fill="#dce9f6"/>
<rect x="321" y="218" width="11" height="11" fill="#eef5fc"/>
<rect x="332" y="218" width="12" height="11" fill="#e4eff9"/>
<rect x="344" y="218" width="11" height="11" fill="#e7f1fa"/>
<rect x="355" y="218" width="11" height="11" fill="#edf5fc"/>
<rect x="366" y="218" width="12" height="11" fill="#edf5fc"/>
<rect x="378" y="218" width="11" height="11" fill="#deebf7"/>
<rect x="389" y="218" width="12" height="11" fill="#dce9f6"/>
<rect x="401" y="218" width="11" height="11" fill="#d8e7f5"/>
<rect x="412" y="218" width="12" height="11" fill="#f6faff"/>
<rect x="424" y="218" width="11" height="11" fill="#e0edf8"/>
<rect x="435" y="218" width="12" height="11" fill="#cee1f2"/>
<rect x="447" y="218" width="11" height="11" fill="#d2e3f3"/>
<rect x="458" y="218" width="12" height="11" fill="#d4e5f4"/>
<rect x="470" y="218" width="11" height="11" fill="#d4e5f4"/>
<rect x="252" y="229" width="11" height="12" fill="#c6dbef"/>
<rect x="263" y="229" width="12" height="12" fill="#b2d2e8"/>
<rect x="275" y="229" width="11" height="12" fill="#bcd7ec"/>
<rect x="286" y="229" width="12" height="12" fill="#a8cee4"/>
<rect x="298" y="229" width="11" height="12" fill="#cee1f2"/>
<rect x="309" y="229" width="12" height="12" fill="#9ecae1"/>
<rect x="321" y="229" width="11" height="12" fill="#d8e7f5"/>
<rect x="332" y="229" width="12" height="12" fill="#7db8da"/>
<rect x="344" y="229" width="11" height="12" fill="#cee1f2"/>
<rect x="355" y="229" width="11" height="12" fill="#caddf0"/>
<rect x="366" y="229" width="12" height="12" fill="#caddf0"/>
<rect x="378" y="229" width="11" height="12" fill="#99c7e0"/>
<rect x="389" y="229" width="12" height="12" fill="#caddf0"/>
<rect x="401" y="229" width="11" height="12" fill="#acd0e6"/>
<rect x="412" y="229" width="12" height="12" fill="#dae9f6"/>
<rect x="424" y="229" width="11" height="12" fill="#b8d5ea"/>
<rect x="435" y="229" width="12" height="12" fill="#c6dbef"/>
<rect x="447" y="229" width="11" height="12" fill="#a6cde4"/>
<rect x="458" y="229" width="12" height="12" fill="#b2d2e8"/>
<rect x="470" y="229" width="11" height="12" fill="#b0d2e7"/>
<rect x="252" y="241" width="11" height="11" fill="#deebf7"/>
<rect x="263" y="241" width="12" height="11" fill="#c6dbef"/>
<rect x="275" y="241" width="11" height="11" fill="#deebf7"/>
<rect x="286" y="241" width="12" height="11" fill="#dce9f6"/>
<rect x="298" y="241" width="11" height="11" fill="#dce9f6"/>
<rect x="309" y="241" width="12" height="11" fill="#dce9f6"/>
<rect x="321" y="241" width="11" height="11" fill="#e4eff9"/>
<rect x="332" y="241" width="12" height="11" fill="#d4e5f4"/>
<rect x="344" y="241" width="11" height="11" fill="#e4eff9"/>
<rect x="355" y="241" width="11" height="11" fill="#deebf7"/>
<rect x="366" y="241" width="12" height="11" fill="#d2e3f3"/>
<rect x="378" y="241" width="11" height="11" fill="#a4cde3"/>
<rect x="389" y="241" width="12" height="11" fill="#e0edf8"/>
<rect x="401" y="241" width="11" height="11" fill="#deebf7"/>
<rect x="412" y="241" width="12" height="11" fill="#e0edf8"/>
<rect x="424" y="241" width="11" height="11" fill="#e0edf8"/>
<rect x="435" y="241" width="12" height="11" fill="#edf5fc"/>
<rect x="447" y="241" width="11" height="11" fill="#e8f1fa"/>
<rect x="458" y="241" width="12" height="11" fill="#e8f1fa"/>
<rect x="470" y="241" width="11" height="11" fill="#eaf3fb"/>
<rect x="263" y="252" width="12" height="11" fill="#e0edf8"/>
<rect x="298" y="252" width="11" height="11" fill="#f0f6fd"/>
<rect x="309" y="252" width="12" height="11" fill="#f6faff"/>
<rect x="321" y="252" width="11" height="11" fill="#f0f6fd"/>
<rect x="332" y="252" width="12" height="11" fill="#eaf3fb"/>
<rect x="344" y="252" width="11" height="11" fill="#eaf3fb"/>
<rect x="355" y="252" width="11" height="11" fill="#f3f9fe"/>
<rect x="366" y="252" width="12" height="11" fill="#e4eff9"/>
<rect x="378" y="252" width="11" height="11" fill="#ccdff1"/>
<rect x="389" y="252" width="12" height="11" fill="#f4f9fe"/>
<rect x="401" y="252" width="11" height="11" fill="#f0f6fd"/>
<rect x="412" y="252" width="12" height="11" fill="#edf5fc"/>
<rect x="424" y="252" width="11" height="11" fill="#f6faff"/>
<rect x="435" y="252" width="12" height="11" fill="#d0e1f2"/>
<rect x="447" y="252" width="11" height="11" fill="#c8ddf0"/>
<rect x="458" y="252" width="12" height="11" fill="#b2d2e8"/>
<rect x="470" y="252" width="11" height="11" fill="#c6dbef"/>
<rect x="275" y="263" width="11" height="12" fill="#d2e3f3"/>
<rect x="286" y="263" width="12" height="12" fill="#dae9f6"/>
<rect x="298" y="263" width="11" height="12" fill="#e8f1fa"/>
<rect x="309" y="263" width="12" height="12" fill="#eaf3fb"/>
<rect x="321" y="263" width="11" height="12" fill="#eaf3fb"/>
<rect x="332" y="263" width="12" height="12" fill="#e4eff9"/>
<rect x="344" y="263" width="11" height="12" fill="#edf5fc"/>
<rect x="355" y="263" width="11" height="12" fill="#edf5fc"/>
<rect x="366" y="263" width="12" height="12" fill="#edf5fc"/>
<rect x="378" y="263" width="11" height="12" fill="#edf5fc"/>
<rect x="389" y="263" width="12" height="12" fill="#c6dbef"/>
<rect x="401" y="263" width="11" height="12" fill="#deebf7"/>
<rect x="412" y="263" width="12" height="12" fill="#deebf7"/>
<rect x="424" y="263" width="11" height="12" fill="#f3f9fe"/>
<rect x="435" y="263" width="12" height="12" fill="#c6dbef"/>
<rect x="447" y="263" width="11" height="12" fill="#a8cee4"/>
<rect x="458" y="263" width="12" height="12" fill="#84bcdc"/>
<rect x="470" y="263" width="11" height="12" fill="#a4cde3"/>
<rect x="298" y="275" width="11" height="11" fill="#edf5fc"/>
<rect x="321" y="275" width="11" height="11" fill="#e7f1fa"/>
<rect x="332" y="275" width="12" height="11" fill="#e8f1fa"/>
<rect x="344" y="275" width="11" height="11" fill="#e2edf8"/>
<rect x="355" y="275" width="11" height="11" fill="#f3f9fe"/>
<rect x="366" y="275" width="12" height="11" fill="#dce9f6"/>
<rect x="378" y="275" width="11" height="11" fill="#aed1e7"/>
<rect x="389" y="275" width="12" height="11" fill="#f4f9fe"/>
<rect x="401" y="275" width="11" height="11" fill="#f2f8fd"/>
<rect x="412" y="275" width="12" height="11" fill="#edf5fc"/>
<rect x="424" y="275" width="11" height="11" fill="#f6faff"/>
<rect x="435" y="275" width="12" height="11" fill="#dce9f6"/>
<rect x="447" y="275" width="11" height="11" fill="#d2e3f3"/>
<rect x="458" y="275" width="12" height="11" fill="#b2d2e8"/>
<rect x="470" y="275" width="11" height="11" fill="#cee1f2"/>
<rect x="298" y="286" width="11" height="12" fill="#f3f9fe"/>
<rect x="321" y="286" width="11" height="12" fill="#deebf7"/>
<rect x="332" y="286" width="12" height="12" fill="#edf5fc"/>
<rect x="344" y="286" width="11" height="12" fill="#e0edf8"/>
<rect x="355" y="286" width="11" height="12" fill="#f2f8fd"/>
<rect x="366" y="286" width="12" height="12" fill="#e2edf8"/>
<rect x="378" y="286" width="11" height="12" fill="#bed8ec"/>
<rect x="389" y="286" width="12" height="12" fill="#f1f7fd"/>
<rect x="401" y="286" width="11" height="12" fill="#f4f9fe"/>
<rect x="412" y="286" width="12" height="12" fill="#f3f9fe"/>
<rect x="424" y="286" width="11" height="12" fill="#f6faff"/>
<rect x="435" y="286" width="12" height="12" fill="#e7f1fa"/>
<rect x="447" y="286" width="11" height="12" fill="#e0edf8"/>
<rect x="458" y="286" width="12" height="12" fill="#d4e5f4"/>
<rect x="470" y="286" width="11" height="12" fill="#deebf7"/>
<rect x="309" y="298" width="12" height="11" fill="#e7f1fa"/>
<rect x="321" y="298" width="11" height="11" fill="#f4f9fe"/>
<rect x="332" y="298" width="12" height="11" fill="#e4eff9"/>
<rect x="344" y="298" width="11" height="11" fill="#f3f9fe"/>
<rect x="355" y="298" width="11" height="11" fill="#f0f6fd"/>
<rect x="366" y="298" width="12" height="11" fill="#f1f7fd"/>
<rect x="378" y="298" width="11" height="11" fill="#e0edf8"/>
<rect x="389" y="298" width="12" height="11" fill="#dae9f6"/>
<rect x="401" y="298" width="11" height="11" fill="#f4f9fe"/>
<rect x="412" y="298" width="12" height="11" fill="#f4f9fe"/>
<rect x="424" y="298" width="11" height="11" fill="#e8f1fa"/>
<rect x="435" y="298" width="12" height="11" fill="#eef5fc"/>
<rect x="447" y="298" width="11" height="11" fill="#e0edf8"/>
<rect x="458" y="298" width="12" height="11" fill="#d8e7f5"/>
<rect x="470" y="298" width="11" height="11" fill="#e0edf8"/>
<rect x="321" y="309" width="11" height="12" fill="#d8e7f5"/>
<rect x="332" y="309" width="12" height="12" fill="#f1f7fd"/>
<rect x="344" y="309" width="11" height="12" fill="#e2edf8"/>
<rect x="355" y="309" width="11" height="12" fill="#f6faff"/>
<rect x="366" y="309" width="12" height="12" fill="#f6faff"/>
<rect x="378" y="309" width="11" height="12" fill="#d2e3f3"/>
<rect x="389" y="309" width="12" height="12" fill="#f3f9fe"/>
<rect x="401" y="309" width="11" height="12" fill="#f4f9fe"/>
<rect x="412" y="309" width="12" height="12" fill="#e4eff9"/>
<rect x="424" y="309" width="11" height="12" fill="#f4f9fe"/>
<rect x="435" y="309" width="12" height="12" fill="#e4eff9"/>
<rect x="447" y="309" width="11" height="12" fill="#e0edf8"/>
<rect x="458" y="309" width="12" height="12" fill="#deebf7"/>
<rect x="470" y="309" width="11" height="12" fill="#e0edf8"/>
<rect x="332" y="321" width="12" height="11" fill="#dce9f6"/>
<rect x="344" y="321" width="11" height="11" fill="#f4f9fe"/>
<rect x="355" y="321" width="11" height="11" fill="#f3f9fe"/>
<rect x="366" y="321" width="12" height="11" fill="#f3f9fe"/>
<rect x="378" y="321" width="11" height="11" fill="#e4eff9"/>
<rect x="389" y="321" width="12" height="11" fill="#f1f7fd"/>
<rect x="401" y="321" width="11" height="11" fill="#e4eff9"/>
<rect x="412" y="321" width="12" height="11" fill="#eef5fc"/>
<rect x="424" y="321" width="11" height="11" fill="#e2edf8"/>
<rect x="435" y="321" width="12" height="11" fill="#f1f7fd"/>
<rect x="447" y="321" width="11" height="11" fill="#e4eff9"/>
<rect x="458" y="321" width="12" height="11" fill="#deebf7"/>
<rect x="470" y="321" width="11" height="11" fill="#e2edf8"/>
<rect x="344" y="332" width="11" height="12" fill="#f0f6fd"/>
<rect x="355" y="332" width="11" height="12" fill="#e8f1fa"/>
<rect x="378" y="332" width="11" height="12" fill="#d2e3f3"/>
<rect x="389" y="332" width="12" height="12" fill="#eaf3fb"/>
<rect x="401" y="332" width="11" height="12" fill="#edf5fc"/>
<rect x="412" y="332" width="12" height="12" fill="#dae9f6"/>
<rect x="424" y="332" width="11" height="12" fill="#edf5fc"/>
<rect x="435" y="332" width="12" height="12" fill="#eef5fc"/>
<rect x="447" y="332" width="11" height="12" fill="#e4eff9"/>
<rect x="458" y="332" width="12" height="12" fill="#eef5fc"/>
<rect x="470" y="332" width="11" height="12" fill="#eef5fc"/>
<rect x="366" y="344" width="12" height="11" fill="#f4f9fe"/>
<rect x="378" y="344" width="11" height="11" fill="#e6f0f9"/>
<rect x="389" y="344" width="12" height="11" fill="#e9f2fb"/>
<rect x="401" y="344" width="11" height="11" fill="#e4eff9"/>
<rect x="412" y="344" width="12" height="11" fill="#f2f8fd"/>
<rect x="424" y="344" width="11" height="11" fill="#e8f1fa"/>
<rect x="435" y="344" width="12" height="11" fill="#e4eff9"/>
<rect x="447" y="344" width="11" height="11" fill="#d1e2f3"/>
<rect x="458" y="344" width="12" height="11" fill="#bad6eb"/>
<rect x="470" y="344" width="11" height="11" fill="#caddf0"/>
<rect x="366" y="355" width="12" height="11" fill="#f1f7fd"/>
<rect x="378" y="355" width="11" height="11" fill="#e7f1fa"/>
<rect x="389" y="355" width="12" height="11" fill="#f1f7fd"/>
<rect x="401" y="355" width="11" height="11" fill="#f2f8fd"/>
<rect x="412" y="355" width="12" height="11" fill="#edf5fc"/>
<rect x="424" y="355" width="11" height="11" fill="#f4f9fe"/>
<rect x="435" y="355" width="12" height="11" fill="#c8ddf0"/>
<rect x="447" y="355" width="11" height="11" fill="#b6d4e9"/>
<rect x="458" y="355" width="12" height="11" fill="#9ecae1"/>
<rect x="470" y="355" width="11" height="11" fill="#b2d2e8"/>
<rect x="378" y="366" width="11" height="12" fill="#e7f1fa"/>
<rect x="389" y="366" width="12" height="12" fill="#c6dbef"/>
<rect x="401" y="366" width="11" height="12" fill="#e4eff9"/>
<rect x="412" y="366" width="12" height="12" fill="#e8f1fa"/>
<rect x="424" y="366" width="11" height="12" fill="#f1f7fd"/>
<rect x="435" y="366" width="12" height="12" fill="#dce9f6"/>
<rect x="447" y="366" width="11" height="12" fill="#c8ddf0"/>
<rect x="458" y="366" width="12" height="12" fill="#b2d2e8"/>
<rect x="470" y="366" width="11" height="12" fill="#c8ddf0"/>
<rect x="389" y="378" width="12" height="11" fill="#8abfdd"/>
<rect x="401" y="378" width="11" height="11" fill="#c6dbef"/>
<rect x="412" y="378" width="12" height="11" fill="#d8e7f5"/>
<rect x="424" y="378" width="11" height="11" fill="#e4eff9"/>
<rect x="435" y="378" width="12" height="11" fill="#a8cee4"/>
<rect x="447" y="378" width="11" height="11" fill="#84bcdc"/>
<rect x="458" y="378" width="12" height="11" fill="#61a7d2"/>
<rect x="470" y="378" width="11" height="11" fill="#84bcdc"/>
<rect x="401" y="389" width="11" height="12" fill="#eef5fc"/>
<rect x="412" y="389" width="12" height="12" fill="#ccdff1"/>
<rect x="424" y="389" width="11" height="12" fill="#f4f9fe"/>
<rect x="435" y="389" width="12" height="12" fill="#e0edf8"/>
<rect x="447" y="389" width="11" height="12" fill="#d8e7f5"/>
<rect x="458" y="389" width="12" height="12" fill="#a2cce2"/>
<rect x="470" y="389" width="11" height="12" fill="#ccdff1"/>
<rect x="412" y="401" width="12" height="11" fill="#f0f6fd"/>
<rect x="424" y="401" width="11" height="11" fill="#f3f9fe"/>
<rect x="435" y="401" width="12" height="11" fill="#e8f1fa"/>
<rect x="447" y="401" width="11" height="11" fill="#e6f0f9"/>
<rect x="458" y="401" width="12" height="11" fill="#d4e5f4"/>
<rect x="470" y="401" width="11" height="11" fill="#e2edf8"/>
<rect x="424" y="412" width="11" height="12" fill="#e8f1fa"/>
<rect x="435" y="412" width="12" height="12" fill="#ecf4fb"/>
<rect x="447" y="412" width="11" height="12" fill="#f0f6fd"/>
<rect x="458" y="412" width="12" height="12" fill="#f1f7fd"/>
<rect x="470" y="412" width="11" height="12" fill="#f4f9fe"/>
<rect x="435" y="424" width="12" height="11" fill="#d6e5f4"/>
<rect x="447" y="424" width="11" height="11" fill="#d2e3f3"/>
<rect x="458" y="424" width="12" height="11" fill="#d2e3f3"/>
<rect x="470" y="424" width="11" height="11" fill="#d2e3f3"/>
<rect x="447" y="435" width="11" height="12" fill="#ecf4fb"/>
<rect x="458" y="435" width="12" height="12" fill="#f4f9fe"/>
<rect x="470" y="435" width="11" height="12" fill="#f3f9fe"/>
<rect x="458" y="447" width="12" height="11" fill="#f0f6fd"/>
<rect x="470" y="447" width="11" height="11" fill="#f0f6fd"/>
<rect x="470" y="458" width="11" height="12" fill="#f3f9fe"/>
</svg>
<svg width="481" height="481" viewBox="0 0 481 481" shape-rendering="crispEdges" fill="#000">
<g fill="#333"><rect x="6" y="1" width="1" height="5"/><rect x="6" y="6" width="1" height="1" opacity="0.45"/>
<rect x="6" y="475" width="1" height="5"/><rect x="6" y="474" width="1" height="1" opacity="0.45"/>
<rect x="1" y="6" width="5" height="1"/><rect x="6" y="6" width="1" height="1" opacity="0.45"/>
<rect x="475" y="6" width="5" height="1"/><rect x="474" y="6" width="1" height="1" opacity="0.45"/>
<rect x="17" y="1" width="1" height="5"/><rect x="17" y="6" width="1" height="1" opacity="0.45"/>
<rect x="17" y="475" width="1" height="5"/><rect x="17" y="474" width="1" height="1" opacity="0.45"/>
<rect x="1" y="17" width="5" height="1"/><rect x="6" y="17" width="1" height="1" opacity="0.45"/>
<rect x="475" y="17" width="5" height="1"/><rect x="474" y="17" width="1" height="1" opacity="0.45"/>
<rect x="29" y="1" width="1" height="5"/><rect x="29" y="6" width="1" height="1" opacity="0.45"/>
<rect x="29" y="475" width="1" height="5"/><rect x="29" y="474" width="1" height="1" opacity="0.45"/>
<rect x="1" y="29" width="5" height="1"/><rect x="6" y="29" width="1" height="1" opacity="0.45"/>
<rect x="475" y="29" width="5" height="1"/><rect x="474" y="29" width="1" height="1" opacity="0.45"/>
<rect x="40" y="1" width="1" height="5"/><rect x="40" y="6" width="1" height="1" opacity="0.45"/>
<rect x="40" y="475" width="1" height="5"/><rect x="40" y="474" width="1" height="1" opacity="0.45"/>
<rect x="1" y="40" width="5" height="1"/><rect x="6" y="40" width="1" height="1" opacity="0.45"/>
<rect x="475" y="40" width="5" height="1"/><rect x="474" y="40" width="1" height="1" opacity="0.45"/>
<rect x="51" y="1" width="1" height="5"/><rect x="51" y="6" width="1" height="1" opacity="0.45"/>
<rect x="51" y="475" width="1" height="5"/><rect x="51" y="474" width="1" height="1" opacity="0.45"/>
<rect x="1" y="51" width="5" height="1"/><rect x="6" y="51" width="1" height="1" opacity="0.45"/>
<rect x="475" y="51" width="5" height="1"/><rect x="474" y="51" width="1" height="1" opacity="0.45"/>
<rect x="63" y="1" width="1" height="5"/><rect x="63" y="6" width="1" height="1" opacity="0.45"/>
<rect x="63" y="475" width="1" height="5"/><rect x="63" y="474" width="1" height="1" opacity="0.45"/>
<rect x="1" y="63" width="5" height="1"/><rect x="6" y="63" width="1" height="1" opacity="0.45"/>
<rect x="475" y="63" width="5" height="1"/><rect x="474" y="63" width="1" height="1" opacity="0.45"/>
<rect x="74" y="1" width="1" height="5"/><rect x="74" y="6" width="1" height="1" opacity="0.45"/>
<rect x="74" y="475" width="1" height="5"/><rect x="74" y="474" width="1" height="1" opacity="0.45"/>
<rect x="1" y="74" width="5" height="1"/><rect x="6" y="74" width="1" height="1" opacity="0.45"/>
<rect x="475" y="74" width="5" height="1"/><rect x="474" y="74" width="1" height="1" opacity="0.45"/>
<rect x="86" y="1" width="1" height="5"/><rect x="86" y="6" width="1" height="1" opacity="0.45"/>
<rect x="86" y="475" width="1" height="5"/><rect x="86" y="474" width="1" height="1" opacity="0.45"/>
<rect x="1" y="86" width="5" height="1"/><rect x="6" y="86" width="1" height="1" opacity="0.45"/>
<rect x="475" y="86" width="5" height="1"/><rect x="474" y="86" width="1" height="1" opacity="0.45"/>
<rect x="97" y="1" width="1" height="5"/><rect x="97" y="6" width="1" height="1" opacity="0.45"/>
<rect x="97" y="475" width="1" height="5"/><rect x="97" y="474" width="1" height="1" opacity="0.45"/>
<rect x="1" y="97" width="5" height="1"/><rect x="6" y="97" width="1" height="1" opacity="0.45"/>
<rect x="475" y="97" width="5" height="1"/><rect x="474" y="97" width="1" height="1" opacity="0.45"/>
<rect x="109" y="1" width="1" height="5"/><rect x="109" y="6" width="1" height="1" opacity="0.45"/>
<rect x="109" y="475" width="1" height="5"/><rect x="109" y="474" width="1" height="1" opacity="0.45"/>
<rect x="1" y="109" width="5" height="1"/><rect x="6" y="109" width="1" height="1" opacity="0.45"/>
<rect x="475" y="109" width="5" height="1"/><rect x="474" y="109" width="1" height="1" opacity="0.45"/>
<rect x="120" y="1" width="1" height="5"/><rect x="120" y="6" width="1" height="1" opacity="0.45"/>
<rect x="120" y="475" width="1" height="5"/><rect x="120" y="474" width="1" height="1" opacity="0.45"/>
<rect x="1" y="120" width="5" height="1"/><rect x="6" y="120" width="1" height="1" opacity="0.45"/>
<rect x="475" y="120" width="5" height="1"/><rect x="474" y="120" width="1" height="1" opacity="0.45"/>
<rect x="131" y="1" width="1" height="5"/><rect x="131" y="6" width="1" height="1" opacity="0.45"/>
<rect x="131" y="475" width="1" height="5"/><rect x="131" y="474" width="1" height="1" opacity="0.45"/>
<rect x="1" y="131" width="5" height="1"/><rect x="6" y="131" width="1" height="1" opacity="0.45"/>
<rect x="475" y="131" width="5" height="1"/><rect x="474" y="131" width="1" height="1" opacity="0.45"/>
<rect x="143" y="1" width="1" height="5"/><rect x="143" y="6" width="1" height="1" opacity="0.45"/>
<rect x="143" y="475" width="1" height="5"/><rect x="143" y="474" width="1" height="1" opacity="0.45"/>
<rect x="1" y="143" width="5" height="1"/><rect x="6" y="143" width="1" height="1" opacity="0.45"/>
<rect x="475" y="143" width="5" height="1"/><rect x="474" y="143" width="1" height="1" opacity="0.45"/>
<rect x="154" y="1" width="1" height="5"/><rect x="154" y="6" width="1" height="1" opacity="0.45"/>
<rect x="154" y="475" width="1" height="5"/><rect x="154" y="474" width="1" height="1" opacity="0.45"/>
<rect x="1" y="154" width="5" height="1"/><rect x="6" y="154" width="1" height="1" opacity="0.45"/>
<rect x="475" y="154" width="5" height="1"/><rect x="474" y="154" width="1" height="1" opacity="0.45"/>
<rect x="166" y="1" width="1" height="5"/><rect x="166" y="6" width="1" height="1" opacity="0.45"/>
<rect x="166" y="475" width="1" height="5"/><rect x="166" y="474" width="1" height="1" opacity="0.45"/>
<rect x="1" y="166" width="5" height="1"/><rect x="6" y="166" width="1" height="1" opacity="0.45"/>
<rect x="475" y="166" width="5" height="1"/><rect x="474" y="166" width="1" height="1" opacity="0.45"/>
<rect x="177" y="1" width="1" height="5"/><rect x="177" y="6" width="1" height="1" opacity="0.45"/>
<rect x="177" y="475" width="1" height="5"/><rect x="177" y="474" width="1" height="1" opacity="0.45"/>
<rect x="1" y="177" width="5" height="1"/><rect x="6" y="177" width="1" height="1" opacity="0.45"/>
<rect x="475" y="177" width="5" height="1"/><rect x="474" y="177" width="1" height="1" opacity="0.45"/>
<rect x="189" y="1" width="1" height="5"/><rect x="189" y="6" width="1" height="1" opacity="0.45"/>
<rect x="189" y="475" width="1" height="5"/><rect x="189" y="474" width="1" height="1" opacity="0.45"/>
<rect x="1" y="189" width="5" height="1"/><rect x="6" y="189" width="1" height="1" opacity="0.45"/>
<rect x="475" y="189" width="5" height="1"/><rect x="474" y="189" width="1" height="1" opacity="0.45"/>
<rect x="200" y="1" width="1" height="5"/><rect x="200" y="6" width="1" height="1" opacity="0.45"/>
<rect x="200" y="475" width="1" height="5"/><rect x="200" y="474" width="1" height="1" opacity="0.45"/>
<rect x="1" y="200" width="5" height="1"/><rect x="6" y="200" width="1" height="1" opacity="0.45"/>
<rect x="475" y="200" width="5" height="1"/><rect x="474" y="200" width="1" height="1" opacity="0.45"/>
<rect x="211" y="1" width="1" height="5"/><rect x="211" y="6" width="1" height="1" opacity="0.45"/>
<rect x="211" y="475" width="1" height="5"/><rect x="211" y="474" width="1" height="1" opacity="0.45"/>
<rect x="1" y="211" width="5" height="1"/><rect x="6" y="211" width="1" height="1" opacity="0.45"/>
<rect x="475" y="211" width="5" height="1"/><rect x="474" y="211" width="1" height="1" opacity="0.45"/>
<rect x="223" y="1" width="1" height="5"/><rect x="223" y="6" width="1" height="1" opacity="0.45"/>
<rect x="223" y="475" width="1" height="5"/><rect x="223" y="474" width="1" height="1" opacity="0.45"/>
<rect x="1" y="223" width="5" height="1"/><rect x="6" y="223" width="1" height="1" opacity="0.45"/>
<rect x="475" y="223" width="5" height="1"/><rect x="474" y="223" width="1" height="1" opacity="0.45"/>
<rect x="234" y="1" width="1" height="5"/><rect x="234" y="6" width="1" height="1" opacity="0.45"/>
<rect x="234" y="475" width="1" height="5"/><rect x="234" y="474" width="1" height="1" opacity="0.45"/>
<rect x="1" y="234" width="5" height="1"/><rect x="6" y="234" width="1" height="1" opacity="0.45"/>
<rect x="475" y="234" width="5" height="1"/><rect x="474" y="234" width="1" height="1" opacity="0.45"/>
<rect x="246" y="1" width="1" height="5"/><rect x="246" y="6" width="1" height="1" opacity="0.45"/>
<rect x="246" y="475" width="1" height="5"/><rect x="246" y="474" width="1" height="1" opacity="0.45"/>
<rect x="1" y="246" width="5" height="1"/><rect x="6" y="246" width="1" height="1" opacity="0.45"/>
<rect x="475" y="246" width="5" height="1"/><rect x="474" y="246" width="1" height="1" opacity="0.45"/>
<rect x="257" y="1" width="1" height="5"/><rect x="257" y="6" width="1" height="1" opacity="0.45"/>
<rect x="257" y="475" width="1" height="5"/><rect x="257" y="474" width="1" height="1" opacity="0.45"/>
<rect x="1" y="257" width="5" height="1"/><rect x="6" y="257" width="1" height="1" opacity="0.45"/>
<rect x="475" y="257" width="5" height="1"/><rect x="474" y="257" width="1" height="1" opacity="0.45"/>
<rect x="269" y="1" width="1" height="5"/><rect x="269" y="6" width="1" height="1" opacity="0.45"/>
<rect x="269" y="475" width="1" height="5"/><rect x="269" y="474" width="1" height="1" opacity="0.45"/>
<rect x="1" y="269" width="5" height="1"/><rect x="6" y="269" width="1" height="1" opacity="0.45"/>
<rect x="475" y="269" width="5" height="1"/><rect x="474" y="269" width="1" height="1" opacity="0.45"/>
<rect x="280" y="1" width="1" height="5"/><rect x="280" y="6" width="1" height="1" opacity="0.45"/>
<rect x="280" y="475" width="1" height="5"/><rect x="280" y="474" width="1" height="1" opacity="0.45"/>
<rect x="1" y="280" width="5" height="1"/><rect x="6" y="280" width="1" height="1" opacity="0.45"/>
<rect x="475" y="280" width="5" height="1"/><rect x="474" y="280" width="1" height="1" opacity="0.45"/>
<rect x="291" y="1" width="1" height="5"/><rect x="291" y="6" width="1" height="1" opacity="0.45"/>
<rect x="291" y="475" width="1" height="5"/><rect x="291" y="474" width="1" height="1" opacity="0.45"/>
<rect x="1" y="291" width="5" height="1"/><rect x="6" y="291" width="1" height="1" opacity="0.45"/>
<rect x="475" y="291" width="5" height="1"/><rect x="474" y="291" width="1" height="1" opacity="0.45"/>
<rect x="303" y="1" width="1" height="5"/><rect x="303" y="6" width="1" height="1" opacity="0.45"/>
<rect x="303" y="475" width="1" height="5"/><rect x="303" y="474" width="1" height="1" opacity="0.45"/>
<rect x="1" y="303" width="5" height="1"/><rect x="6" y="303" width="1" height="1" opacity="0.45"/>
<rect x="475" y="303" width="5" height="1"/><rect x="474" y="303" width="1" height="1" opacity="0.45"/>
<rect x="314" y="1" width="1" height="5"/><rect x="314" y="6" width="1" height="1" opacity="0.45"/>
<rect x="314" y="475" width="1" height="5"/><rect x="314" y="474" width="1" height="1" opacity="0.45"/>
<rect x="1" y="314" width="5" height="1"/><rect x="6" y="314" width="1" height="1" opacity="0.45"/>
<rect x="475" y="314" width="5" height="1"/><rect x="474" y="314" width="1" height="1" opacity="0.45"/>
<rect x="326" y="1" width="1" height="5"/><rect x="326" y="6" width="1" height="1" opacity="0.45"/>
<rect x="326" y="475" width="1" height="5"/><rect x="326" y="474" width="1" height="1" opacity="0.45"/>
<rect x="1" y="326" width="5" height="1"/><rect x="6" y="326" width="1" height="1" opacity="0.45"/>
<rect x="475" y="326" width="5" height="1"/><rect x="474" y="326" width="1" height="1" opacity="0.45"/>
<rect x="337" y="1" width="1" height="5"/><rect x="337" y="6" width="1" height="1" opacity="0.45"/>
<rect x="337" y="475" width="1" height="5"/><rect x="337" y="474" width="1" height="1" opacity="0.45"/>
<rect x="1" y="337" width="5" height="1"/><rect x="6" y="337" width="1" height="1" opacity="0.45"/>
<rect x="475" y="337" width="5" height="1"/><rect x="474" y="337" width="1" height="1" opacity="0.45"/>
<rect x="349" y="1" width="1" height="5"/><rect x="349" y="6" width="1" height="1" opacity="0.45"/>
<rect x="349" y="475" width="1" height="5"/><rect x="349" y="474" width="1" height="1" opacity="0.45"/>
<rect x="1" y="349" width="5" height="1"/><rect x="6" y="349" width="1" height="1" opacity="0.45"/>
<rect x="475" y="349" width="5" height="1"/><rect x="474" y="349" width="1" height="1" opacity="0.45"/>
<rect x="360" y="1" width="1" height="5"/><rect x="360" y="6" width="1" height="1" opacity="0.45"/>
<rect x="360" y="475" width="1" height="5"/><rect x="360" y="474" width="1" height="1" opacity="0.45"/>
<rect x="1" y="360" width="5" height="1"/><rect x="6" y="360" width="1" height="1" opacity="0.45"/>
<rect x="475" y="360" width="5" height="1"/><rect x="474" y="360" width="1" height="1" opacity="0.45"/>
<rect x="371" y="1" width="1" height="5"/><rect x="371" y="6" width="1" height="1" opacity="0.45"/>
<rect x="371" y="475" width="1" height="5"/><rect x="371" y="474" width="1" height="1" opacity="0.45"/>
<rect x="1" y="371" width="5" height="1"/><rect x="6" y="371" width="1" height="1" opacity="0.45"/>
<rect x="475" y="371" width="5" height="1"/><rect x="474" y="371" width="1" height="1" opacity="0.45"/>
<rect x="383" y="1" width="1" height="5"/><rect x="383" y="6" width="1" height="1" opacity="0.45"/>
<rect x="383" y="475" width="1" height="5"/><rect x="383" y="474" width="1" height="1" opacity="0.45"/>
<rect x="1" y="383" width="5" height="1"/><rect x="6" y="383" width="1" height="1" opacity="0.45"/>
<rect x="475" y="383" width="5" height="1"/><rect x="474" y="383" width="1" height="1" opacity="0.45"/>
<rect x="394" y="1" width="1" height="5"/><rect x="394" y="6" width="1" height="1" opacity="0.45"/>
<rect x="394" y="475" width="1" height="5"/><rect x="394" y="474" width="1" height="1" opacity="0.45"/>
<rect x="1" y="394" width="5" height="1"/><rect x="6" y="394" width="1" height="1" opacity="0.45"/>
<rect x="475" y="394" width="5" height="1"/><rect x="474" y="394" width="1" height="1" opacity="0.45"/>
<rect x="406" y="1" width="1" height="5"/><rect x="406" y="6" width="1" height="1" opacity="0.45"/>
<rect x="406" y="475" width="1" height="5"/><rect x="406" y="474" width="1" height="1" opacity="0.45"/>
<rect x="1" y="406" width="5" height="1"/><rect x="6" y="406" width="1" height="1" opacity="0.45"/>
<rect x="475" y="406" width="5" height="1"/><rect x="474" y="406" width="1" height="1" opacity="0.45"/>
<rect x="417" y="1" width="1" height="5"/><rect x="417" y="6" width="1" height="1" opacity="0.45"/>
<rect x="417" y="475" width="1" height="5"/><rect x="417" y="474" width="1" height="1" opacity="0.45"/>
<rect x="1" y="417" width="5" height="1"/><rect x="6" y="417" width="1" height="1" opacity="0.45"/>
<rect x="475" y="417" width="5" height="1"/><rect x="474" y="417" width="1" height="1" opacity="0.45"/>
<rect x="429" y="1" width="1" height="5"/><rect x="429" y="6" width="1" height="1" opacity="0.45"/>
<rect x="429" y="475" width="1" height="5"/><rect x="429" y="474" width="1" height="1" opacity="0.45"/>
<rect x="1" y="429" width="5" height="1"/><rect x="6" y="429" width="1" height="1" opacity="0.45"/>
<rect x="475" y="429" width="5" height="1"/><rect x="474" y="429" width="1" height="1" opacity="0.45"/>
<rect x="440" y="1" width="1" height="5"/><rect x="440" y="6" width="1" height="1" opacity="0.45"/>
<rect x="440" y="475" width="1" height="5"/><rect x="440" y="474" width="1" height="1" opacity="0.45"/>
<rect x="1" y="440" width="5" height="1"/><rect x="6" y="440" width="1" height="1" opacity="0.45"/>
<rect x="475" y="440" width="5" height="1"/><rect x="474" y="440" width="1" height="1" opacity="0.45"/>
<rect x="451" y="1" width="1" height="5"/><rect x="451" y="6" width="1" height="1" opacity="0.45"/>
<rect x="451" y="475" width="1" height="5"/><rect x="451" y="474" width="1" height="1" opacity="0.45"/>
<rect x="1" y="451" width="5" height="1"/><rect x="6" y="451" width="1" height="1" opacity="0.45"/>
<rect x="475" y="451" width="5" height="1"/><rect x="474" y="451" width="1" height="1" opacity="0.45"/>
<rect x="463" y="1" width="1" height="5"/><rect x="463" y="6" width="1" height="1" opacity="0.45"/>
<rect x="463" y="475" width="1" height="5"/><rect x="463" y="474" width="1" height="1" opacity="0.45"/>
<rect x="1" y="463" width="5" height="1"/><rect x="6" y="463" width="1" height="1" opacity="0.45"/>
<rect x="475" y="463" width="5" height="1"/><rect x="474" y="463" width="1" height="1" opacity="0.45"/>
<rect x="474" y="1" width="1" height="5"/><rect x="474" y="6" width="1" height="1" opacity="0.45"/>
<rect x="474" y="475" width="1" height="5"/><rect x="474" y="474" width="1" height="1" opacity="0.45"/>
<rect x="1" y="474" width="5" height="1"/><rect x="6" y="474" width="1" height="1" opacity="0.45"/>
<rect x="475" y="474" width="5" height="1"/><rect x="474" y="474" width="1" height="1" opacity="0.45"/></g>
<g opacity="0.15"><rect x="1" y="1" width="479" height="1"/><rect x="1" y="479" width="479" height="1"/><rect x="1" y="1" width="1" height="479"/><rect x="479" y="1" width="1" height="479"/></g>
<rect x="0" y="0" width="481" height="1"/><rect x="0" y="480" width="481" height="1"/><rect x="0" y="0" width="1" height="481"/><rect x="480" y="0" width="1" height="481"/>
</svg>
</div>
<div class="xl" style="left:127.0px;">C1'</div>
<div class="yl" style="left:55.5px;top:56.7px;">C1'</div>
<div class="xl" style="left:184.2px;">C4'</div>
<div class="yl" style="left:55.5px;top:113.9px;">C4'</div>
<div class="xl" style="left:240.1px;">N1</div>
<div class="yl" style="left:55.0px;top:171.0px;">N1</div>
<div class="xl" style="left:298.4px;">O2'</div>
<div class="yl" style="left:55.5px;top:228.1px;">O2'</div>
<div class="xl" style="left:354.5px; letter-spacing:-0.5px;">OP2</div>
<div class="yl" style="left:54.6px;top:285.3px; letter-spacing:-0.5px;">OP2</div>
<div class="xl" style="left:411.8px;">C3'</div>
<div class="yl" style="left:55.5px;top:342.4px;">C3'</div>
<div class="xl" style="left:468.4px;">C6</div>
<div class="yl" style="left:55.0px;top:399.6px;">C6</div>
<div class="xl" style="left:527.0px;">O3'</div>
<div class="yl" style="left:55.5px;top:456.7px;">O3'</div>
<div class="xl" style="left:583.1px; letter-spacing:-0.5px;">OP2</div>
<div class="yl" style="left:54.6px;top:513.9px; letter-spacing:-0.5px;">OP2</div>
<svg id="cb" width="17" height="481" viewBox="0 0 17 481" shape-rendering="crispEdges">
<defs><linearGradient id="g" x1="0" y1="0" x2="0" y2="1"><stop offset="0.0000" stop-color="#08306b"/><stop offset="0.1250" stop-color="#08519c"/><stop offset="0.2500" stop-color="#2171b5"/><stop offset="0.3750" stop-color="#4292c6"/><stop offset="0.5000" stop-color="#6baed6"/><stop offset="0.6250" stop-color="#9ecae1"/><stop offset="0.7500" stop-color="#c6dbef"/><stop offset="0.8750" stop-color="#deebf7"/><stop offset="1.0000" stop-color="#f7fbff"/></linearGradient></defs>
<rect x="0" y="0" width="17" height="481" fill="url(#g)"/>
<g fill="#333"><rect x="11" y="480" width="5" height="1"/><rect x="10" y="480" width="1" height="1" opacity="0.45"/><rect x="11" y="429" width="5" height="1"/><rect x="10" y="429" width="1" height="1" opacity="0.45"/><rect x="11" y="379" width="5" height="1"/><rect x="10" y="379" width="1" height="1" opacity="0.45"/><rect x="11" y="328" width="5" height="1"/><rect x="10" y="328" width="1" height="1" opacity="0.45"/><rect x="11" y="277" width="5" height="1"/><rect x="10" y="277" width="1" height="1" opacity="0.45"/><rect x="11" y="227" width="5" height="1"/><rect x="10" y="227" width="1" height="1" opacity="0.45"/><rect x="11" y="176" width="5" height="1"/><rect x="10" y="176" width="1" height="1" opacity="0.45"/><rect x="11" y="125" width="5" height="1"/><rect x="10" y="125" width="1" height="1" opacity="0.45"/><rect x="11" y="75" width="5" height="1"/><rect x="10" y="75" width="1" height="1" opacity="0.45"/><rect x="11" y="24" width="5" height="1"/><rect x="10" y="24" width="1" height="1" opacity="0.45"/></g><g fill="#000">
<rect x="0" y="0" width="17" height="1"/><rect x="0" y="480" width="17" height="1"/><rect x="0" y="0" width="1" height="481"/><rect x="16" y="0" width="1" height="481"/></g>
</svg>
<div class="cl" style="top:531.0px">0.00</div>
<div class="cl" style="top:480.3px">0.03</div>
<div class="cl" style="top:429.7px">0.06</div>
<div class="cl" style="top:379.0px">0.09</div>
<div class="cl" style="top:328.3px">0.12</div>
<div class="cl" style="top:277.7px">0.15</div>
<div class="cl" style="top:227.0px">0.18</div>
<div class="cl" style="top:176.3px">0.21</div>
<div class="cl" style="top:125.7px">0.24</div>
<div class="cl" style="top:75.0px">0.27</div>
</body></html>
